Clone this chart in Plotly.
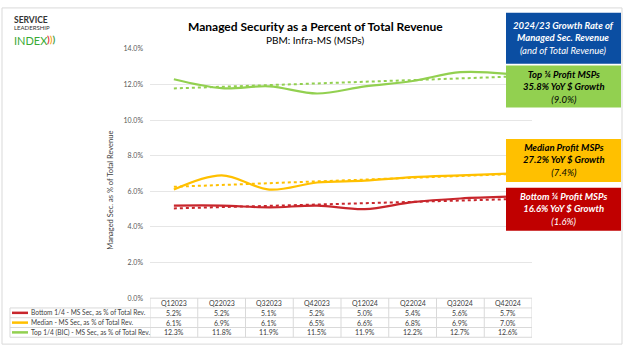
import numpy as np
import plotly.graph_objects as go

categories = ["Q12023", "Q22023", "Q32023", "Q42023", "Q12024", "Q22024", "Q32024", "Q42024"]
bottom_vals = [5.2, 5.2, 5.1, 5.2, 5.0, 5.4, 5.6, 5.7]
median_vals = [6.1, 6.9, 6.1, 6.5, 6.6, 6.8, 6.9, 7.0]
top_vals = [12.3, 11.8, 11.9, 11.5, 11.9, 12.2, 12.7, 12.6]

series_names = ["Bottom 1/4 - MS Sec, as % of Total Rev.",
                "Median - MS Sec, as % of Total Rev.",
                "Top 1/4 (BIC) - MS Sec, as % of Total Rev."]
series_colors = ["#C8262C", "#FFC000", "#92D050"]
series_vals = [bottom_vals, median_vals, top_vals]

box_texts = [
    "<b><i>2024/23 Growth Rate of<br>Managed Sec. Revenue</i></b><br><i>(and of Total Revenue)</i>",
    "<b><i>Top ¼ Profit MSPs<br>35.8% YoY $ Growth</i></b><br><i>(9.0%)</i>",
    "<b><i>Median Profit MSPs<br>27.2% YoY $ Growth</i></b><br><i>(7.4%)</i>",
    "<b><i>Bottom ¼ Profit MSPs<br>16.6% YoY $ Growth</i></b><br><i>(1.6%)</i>",
]
box_fills = ["#0B4EA2", "#92D050", "#FFC000", "#C00000"]
box_font_colors = ["white", "black", "black", "white"]

W, H = 624, 352
FONT = "Lato"


def px(x):
    return x / W


def py(y):
    return 1 - y / H


X0, X1 = 150, 532
Y0, Y1 = 45, 300

fig = go.Figure()
xs = np.arange(len(categories))
for name, vals, col in zip(series_names, series_vals, series_colors):
    v = np.array(vals) / 100.0
    fig.add_trace(go.Scatter(x=categories, y=v, mode="lines", name=name,
                             line=dict(color=col, width=2.2, shape="spline", smoothing=1.0),
                             showlegend=False))
    slope, icpt = np.polyfit(xs, v, 1)
    fig.add_trace(go.Scatter(x=categories, y=slope * xs + icpt, mode="lines",
                             line=dict(color=col, width=2, dash="dot"),
                             showlegend=False, hoverinfo="skip"))

shapes = []
annotations = []


def ann(x, y, text, size, color="#404040", xanchor="center", **kw):
    d = dict(x=x, y=y, xref="paper", yref="paper", text=text, showarrow=False,
             xanchor=xanchor, yanchor="middle", font=dict(size=size, color=color, family=FONT))
    d.update(kw)
    annotations.append(d)


# outer frame
shapes.append(dict(type="rect", xref="paper", yref="paper", x0=px(2), x1=px(622), y0=py(347), y1=py(3),
                   line=dict(color="#D9D9D9", width=1), layer="below"))

# Table
grid_col = "#D9D9D9"
row_edges = [300, 310, 320, 330, 340]
for i, ry in enumerate(row_edges):
    xl = X0 if i == 0 else 10
    shapes.append(dict(type="line", xref="paper", yref="paper", x0=px(xl), x1=px(X1), y0=py(ry), y1=py(ry),
                       line=dict(color=grid_col, width=1)))
for k in range(len(categories) + 1):
    shapes.append(dict(type="line", xref="x", yref="paper", x0=k - 0.5, x1=k - 0.5, y0=py(300), y1=py(340),
                       line=dict(color=grid_col, width=1)))
shapes.append(dict(type="line", xref="paper", yref="paper", x0=px(10), x1=px(10), y0=py(310), y1=py(340),
                   line=dict(color=grid_col, width=1)))

for c in categories:
    annotations.append(dict(x=c, xref="x", y=py(305), yref="paper", text=c, showarrow=False,
                            xanchor="center", yanchor="middle",
                            font=dict(size=7, color="#404040", family=FONT)))
for r, (name, vals, col) in enumerate(zip(series_names, series_vals, series_colors)):
    yc = 315 + r * 10
    for c, v in zip(categories, vals):
        annotations.append(dict(x=c, xref="x", y=py(yc), yref="paper", text=f"{v:.1f}%", showarrow=False,
                                xanchor="center", yanchor="middle",
                                font=dict(size=7, color="#404040", family=FONT)))
    shapes.append(dict(type="line", xref="paper", yref="paper", x0=px(12), x1=px(28), y0=py(yc), y1=py(yc),
                       line=dict(color=col, width=2.5)))
    ann(px(29), py(yc), name, 6.6, xanchor="left")

# Right-side boxes
box_y = [(8, 60), (62, 105), (137, 181), (187, 231)]
for (ya, yb), txt, fc, tc in zip(box_y, box_texts, box_fills, box_font_colors):
    shapes.append(dict(type="rect", xref="paper", yref="paper", x0=px(506), x1=px(621), y0=py(yb), y1=py(ya),
                       fillcolor=fc, line=dict(width=0), layer="above"))
    ann(px(563.5), py((ya + yb) / 2), txt, 9.5, color=tc, align="center")

# Title
ann(px(315), py(22), "<b>Managed Security as a Percent of Total Revenue</b>", 12, color="black")
ann(px(315), py(36), "PBM: Infra-MS (MSPs)", 10, color="black")
# y-axis title
ann(px(111), py(190), "Managed Sec. as % of Total Revenue", 7.5, textangle=-90)
# Logo
ann(px(12), py(15), "<b>SERVICE</b>", 8.5, color="#333333", xanchor="left")
ann(px(12), py(23.5), "LEADERSHIP", 6, color="#333333", xanchor="left")
ann(px(12), py(36), "INDEX", 11, color="#3AAA35", xanchor="left")
ann(px(45), py(35), "<b><span style='color:#E53935'>)</span><span style='color:#F9A825'>)</span>"
    "<span style='color:#43A047'>)</span></b>", 10, xanchor="left")

fig.update_layout(
    width=W, height=H,
    margin=dict(l=0, r=0, t=0, b=0),
    paper_bgcolor="white", plot_bgcolor="white",
    font=dict(family=FONT),
    xaxis=dict(domain=[px(X0), px(X1)], range=[-0.5, len(categories) - 0.5], showticklabels=False,
               showgrid=False, zeroline=False, showline=False, ticks=""),
    yaxis=dict(domain=[py(Y1), py(Y0)], range=[0, 0.14], dtick=0.02, tickformat=".1%",
               showgrid=True, gridcolor="#E6E6E6", gridwidth=1, zeroline=False, showline=False,
               tickfont=dict(size=7, color="#595959", family=FONT), ticklabelstandoff=6),
    shapes=shapes,
    annotations=annotations,
)

fig.write_html("out.html")
